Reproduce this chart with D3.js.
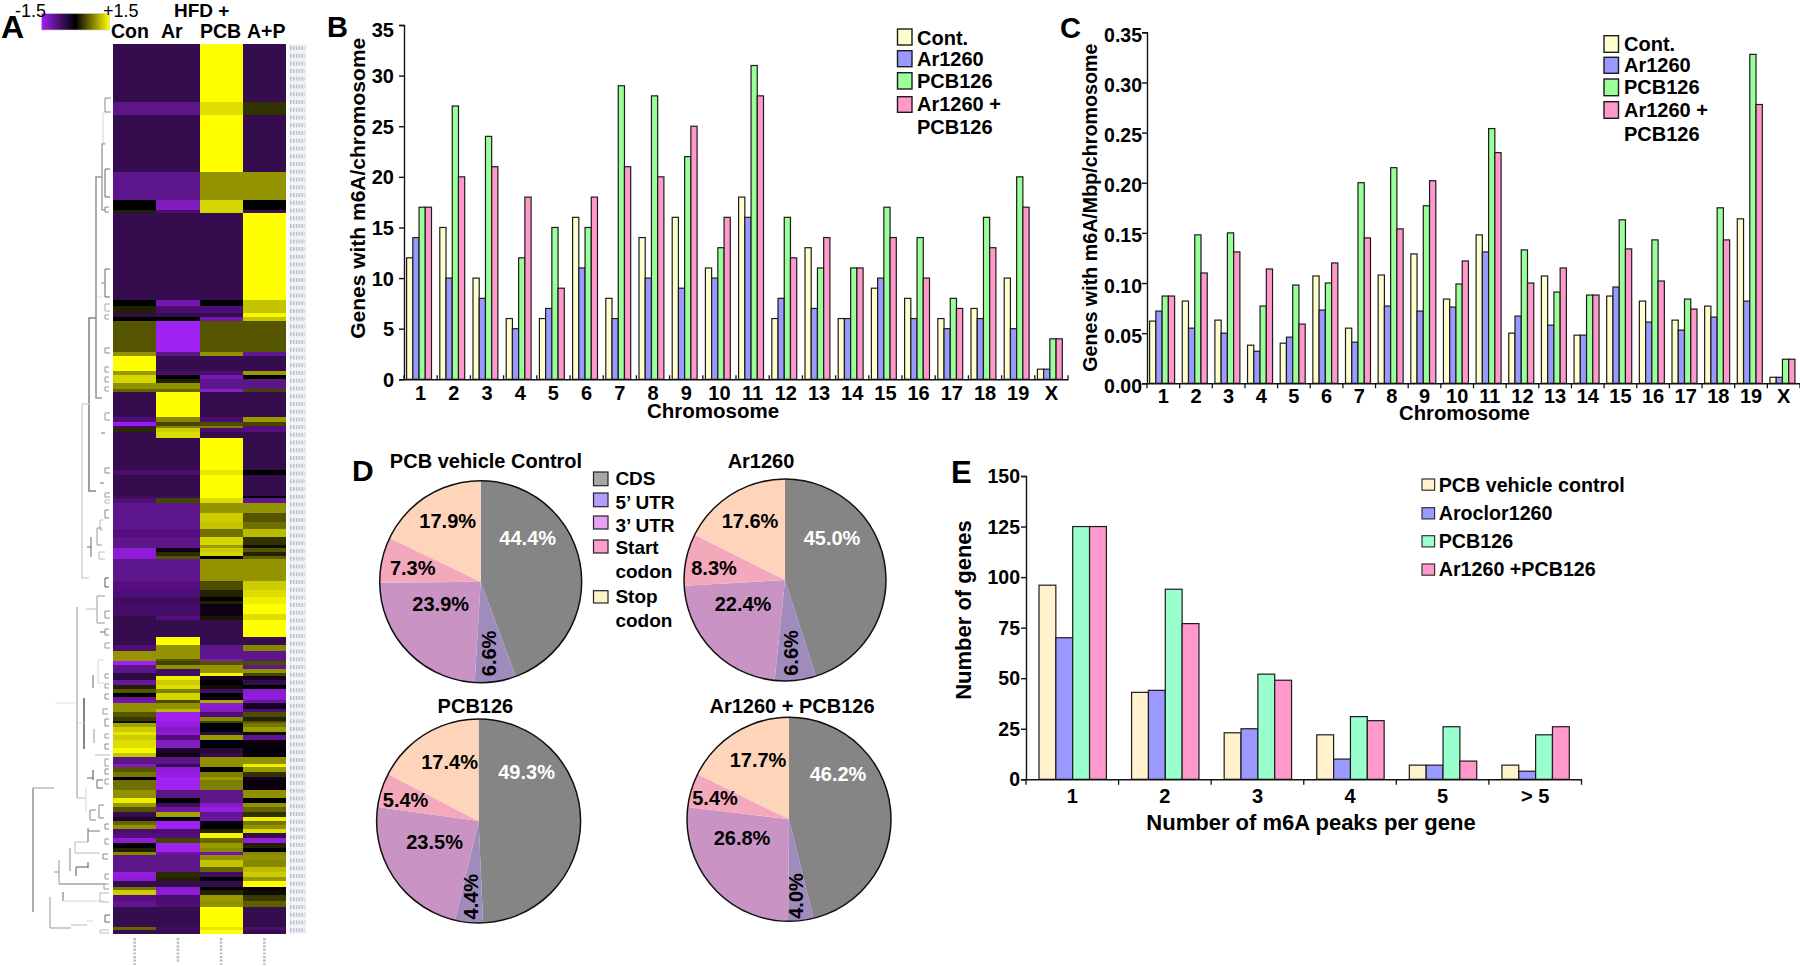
<!DOCTYPE html>
<html>
<head>
<meta charset="utf-8">
<script src="https://cdn.jsdelivr.net/npm/d3@7/dist/d3.min.js"></script>
<style>
html,body{margin:0;padding:0;background:#fff}
svg{display:block}
text{font-family:"Liberation Sans",Arial,sans-serif;font-weight:700;fill:#000}
</style>
</head>
<body>
<svg id="fig" width="1800" height="966"></svg>
<script>
// ---------- DATA ----------
const chromosomes = ["1","2","3","4","5","6","7","8","9","10","11","12","13","14","15","16","17","18","19","X"];
const chromSeries = ["Cont.","Ar1260","PCB126","Ar1260 +\nPCB126"];
const bCont  = [12,15,10,6,6,16,8,14,16,11,18,6,13,6,9,8,6,7,10,1];
const bAr    = [14,10,8,5,7,11,6,10,9,10,16,8,7,6,10,6,5,6,5,1];
const bPCB   = [17,27,24,12,15,15,29,28,22,13,31,16,11,11,17,14,8,16,20,4];
const bCombo = [17,20,21,18,9,18,21,20,25,16,28,12,14,11,14,10,7,13,17,4];
const bTicks = [0,5,10,15,20,25,30,35];
const cCont  = [.062,.082,.063,.038,.040,.107,.055,.108,.129,.084,.148,.050,.107,.048,.087,.082,.063,.077,.164,.006];
const cAr    = [.072,.055,.050,.032,.046,.073,.041,.077,.072,.076,.131,.067,.058,.048,.096,.061,.053,.066,.082,.006];
const cPCB   = [.087,.148,.150,.077,.098,.100,.200,.215,.177,.099,.254,.133,.091,.088,.163,.143,.084,.175,.328,.024];
const cCombo = [.087,.110,.131,.114,.059,.120,.145,.154,.202,.122,.230,.100,.115,.088,.134,.102,.074,.143,.278,.024];
const cTicks = [0,.05,.10,.15,.20,.25,.30,.35];
const peakBins = ["1","2","3","4","5","> 5"];
const peakSeries = ["PCB vehicle control","Aroclor1260","PCB126","Ar1260 +PCB126"];
const eCont  = [96,43,23,22,7,7];
const eAr    = [70,44,25,10,7,4];
const ePCB   = [125,94,52,31,26,22];
const eCombo = [125,77,49,29,9,26];
const eTicks = [0,25,50,75,100,125,150];
const regions = ["CDS","5\u2019 UTR","3\u2019 UTR","Start\ncodon","Stop\ncodon"];
const pieTitles = ["PCB vehicle Control","Ar1260","PCB126","Ar1260 + PCB126"];
const pieControl = [44.4,6.6,23.9,7.3,17.9];
const pieAr      = [45.0,6.6,22.4,8.3,17.6];
const piePCB     = [49.3,4.4,23.5,5.4,17.4];
const pieCombo   = [46.2,4.0,26.8,5.4,17.7];
const heatColumns = ["Con","Ar","PCB","A+P"];
const heatRowCount = 890;
const heatStart = [0,58,71,128,156,166,169,256,262,269,
  273,277,308,312,327,331,335,339,345,348,
  373,378,382,384,388,394,426,431,452,454,
  459,469,478,485,493,501,504,508,512,515,
  537,546,553,557,560,570,572,576,593,601,
  607,615,617,621,625,629,632,636,641,645,
  649,653,656,659,665,668,673,677,679,683,
  688,691,696,704,709,713,720,723,728,733,
  736,746,754,759,763,768,773,777,781,785,
  789,794,799,804,808,811,816,823,828,833,
  837,843,846,851,857,863,883,886];
const heatCon = [-.5,-.85,-.5,-.87,0,.2,-.5,0,.2,-.45,
  0,.5,.85,1.5,.9,1.25,1.25,.85,.6,-.5,
  -.75,-1.45,-.6,.25,-.5,-.5,-.7,-.5,-.55,-.75,
  -.87,-.87,-.87,-.8,-.85,-.85,-1.35,-1.35,-1.35,-.87,
  -.8,-.75,-.6,-.6,-.65,-.65,-.45,-.5,-.5,-.75,
  .87,.87,-1.5,-.87,-.87,-.4,-.4,-1,.2,.5,
  0,-1,-1.1,.85,.85,.5,.35,.1,.95,1.2,
  1.35,1.2,1.3,1.45,1.15,-.85,-1.2,.5,.7,0,
  .65,.85,1.4,.9,.5,-.5,-.3,.6,.85,-.7,
  -.8,-1.3,0,.2,.8,-.85,-.85,-.85,-1.4,-1.3,
  -.5,.7,1.2,-.8,-.9,-.5,.6,-.5];
const heatArc = [-.5,-.85,-.5,-.87,-1.2,-.7,-.5,-1.1,-.7,-.5,
  0,-1.5,-.85,-.5,-.7,0,.2,.85,.6,1.5,
  .8,.4,.75,1.2,1.3,-.5,-.7,-.5,-.55,.4,
  -.87,-.87,-.87,-.8,-.85,-.85,-.1,.25,.5,-.87,
  -.8,-.75,-.6,-.6,-.65,-.65,-.8,-.5,1.5,.87,
  .87,.5,.4,.85,-.6,-.6,1.4,1.2,1.3,.75,
  1.25,1.25,.45,.85,1.1,-1.5,-1.5,-1.45,-1.4,-1.2,
  -1.35,-.8,-1.2,-.3,-.1,-.85,-.5,-1.35,-1.4,-1.5,
  -1.5,-.85,0,-.6,-1,.95,-.05,-1.5,-1.5,-.7,
  -.8,.4,-1.5,-1.5,-1,-.85,-.85,-.85,.25,.2,
  -.5,-1.3,-1.35,-.7,-.75,-.5,-.6,-.5];
const heatPCB = [1.5,1.3,1.5,.87,1.25,1.25,-.5,0,-.75,-.5,
  -1.1,.5,.85,-.5,-.7,-1.1,-.85,-.85,-1.3,-.5,
  -.7,.45,.75,-.7,-.5,1.5,1.35,1.5,1.5,1.3,
  .87,1.2,1.15,.65,1.25,.9,1.2,1.25,0,.87,
  .45,.2,0,.2,-.15,-.15,.15,-.5,-.5,-.85,
  -.87,-1.2,.5,.87,.87,1.45,-.2,0,.1,-.6,
  0,-.1,1,-1.3,-1.2,-.75,.8,.4,-.05,-.05,
  -.4,.9,-.05,-.35,-.5,.85,.85,-.05,.75,.9,
  .75,-.85,-.85,-1.2,-1.4,-.9,-1,-.05,0,.2,
  1.45,.6,.9,.8,-1.1,.85,1.15,.6,-.6,0,
  -.5,0,.2,.9,.85,1.5,1.35,1.5];
const heatAP = [-.5,.28,-.5,.87,0,-.6,1.5,1.15,1.15,1.45,
  1.15,.5,-.95,-.5,.9,0,-.85,-.85,.4,-.5,
  .9,.4,-.8,-.8,-.5,-.5,0,-.5,0,-.9,
  .87,.5,.65,1.1,.3,.1,.5,.2,.55,.87,
  1.2,1.3,1.4,1.4,1.5,1.3,1.3,1.5,-.5,.8,
  -.87,-.87,.45,-.9,.87,.4,-.2,-.5,0,-1.3,
  -1.35,-1.35,-1,-.2,-.75,.45,.2,.5,.7,.9,
  .1,-.9,-.1,-.05,-.1,.85,1.4,.9,.3,-.2,
  -.1,.85,0,.85,.6,.3,1.4,.7,.85,1.3,
  -.45,-1.4,.2,0,.8,.85,.8,1.1,1.2,.9,
  1.5,-.1,.05,.35,.55,-.5,-.7,-.5];
const heatLabelRows = 115;
// dendrogram branches: [depth, first row, last row, branch length, grey level]
const dendroBranches = [
 [105,54,68,6,136],[103,69,99,3,215],[105,125,153,5,102],[102,100,166,3,170],[96,133,354,6,153],
 [105,163,168,4,136],[105,225,253,5,102],[101,239,239,4,136],[97,253,253,6,225],[105,260,267,5,170],
 [105,271,275,4,153],[89,274,447,7,136],[82,360,534,7,215],[105,304,309,5,136],[105,323,328,4,153],
 [105,333,338,4,153],[105,343,347,4,153],[105,369,376,5,153],[101,389,389,4,119],[105,424,429,5,136],
 [100,439,439,4,119],[105,449,453,5,153],[105,456,459,5,187],[105,466,474,4,136],[100,476,486,3,187],
 [97,484,501,5,153],[91,493,513,0,102],[87,503,503,4,102],[99,508,515,6,187],[105,534,543,4,85],
 [97,552,579,8,153],[86,565,565,11,187],[105,567,574,5,136],[100,588,588,5,102],[105,585,591,4,136],
 [105,599,604,5,153],[98,616,639,6,215],[77,563,754,0,187],[77,754,754,9,187],[93,631,644,0,102],
 [55,659,659,22,225],[84,654,705,0,102],[78,679,679,6,225],[94,685,699,0,153],[95,711,711,15,187],
 [93,726,736,0,68],[87,734,734,6,102],[97,736,744,6,102],[86,743,768,0,215],[99,761,774,5,136],
 [90,766,776,6,136],[33,744,868,0,153],[33,744,744,21,153],[88,784,798,0,102],[88,787,787,12,119],
 [75,798,809,0,187],[75,798,798,13,187],[75,809,809,25,187],[70,804,827,0,136],[76,823,832,0,85],
 [76,823,823,12,85],[88,818,824,0,85],[59,816,840,0,153],[54,828,828,5,153],[59,840,840,46,119],
 [63,848,857,0,102],[63,857,857,42,215],[50,853,884,0,153],[50,884,884,21,153],[71,881,881,16,187],
 [87,877,877,6,215],[105,871,878,5,102],[100,886,889,9,187],[100,849,858,9,187],
 [105,630,634,4,153],[105,640,644,4,153],[105,650,655,4,136],[103,665,670,5,153],[105,675,682,4,136],
 [105,690,694,4,153],[105,700,705,4,136],[105,715,722,4,153],[105,725,730,4,136],[105,735,740,4,153],
 [105,780,785,4,136],[105,795,800,4,153],[103,810,815,5,136],[105,830,835,4,153],[104,840,845,5,153]
];

// ---------- STYLE / LAYOUT ----------
const svg = d3.select("#fig");
const chromColors = ["#ffffcc","#9999ff","#99ff99","#ff99cc"];
const peakColors  = ["#fff2cc","#9999ff","#99ffcc","#ff99cc"];
const sliceColors = ["#858585","#a08cbc","#c994c4","#f4a8bc","#fed5ba"];
const swatchColors= ["#a6a6a6","#b39efa","#e8a0f5","#ff9ecb","#fff1c8"];
const pieCentres  = [[480.7,581.7],[785,580],[478.6,821],[789,819.3]];
const pieRadii    = [101,101,102,102];
const pieTitlePos = [[486,468],[761,468],[475.4,713],[792,713]];
const pieLabelOffsets = [
 [[47,-41.7],[9.6,71.7],[-40,24],[-68,-11.7],[-33,-59]],
 [[47,-40],[8,73],[-42,25.7],[-71,-10],[-35,-57.7]],
 [[48,-47.7],[-6,75.7],[-44,22.3],[-73,-19],[-29,-57]],
 [[49,-44],[9,76.7],[-47,20.7],[-74,-20],[-31,-57.7]]];

function txt(x,y,s,size,opts={}){
  const t = svg.append("text").attr("x",x).attr("y",y).attr("font-size",size).text(s);
  if(opts.anchor) t.attr("text-anchor",opts.anchor);
  if(opts.regular) t.style("font-weight",400);
  if(opts.fill) t.style("fill",opts.fill);
  if(opts.rotate!==undefined) t.attr("transform",`rotate(${opts.rotate} ${x} ${y})`);
  return t;
}

function barPanel(c){
  const g = svg.append("g");
  const x = d3.scaleBand().domain(c.cats).range([c.x0,c.x1]);
  const sub = d3.scaleBand().domain(d3.range(4)).range(c.inner);
  const y = d3.scaleLinear().domain(c.yDomain).range([c.y0,c.y1]);
  c.values.forEach((vals,s)=>{
    g.selectAll(null).data(vals).join("rect")
      .attr("x",(d,i)=>x(c.cats[i])+sub(s))
      .attr("y",d=>y(d))
      .attr("width",sub.bandwidth())
      .attr("height",d=>c.y0-y(d))
      .attr("fill",c.colors[s])
      .attr("stroke","#1c1c1c").attr("stroke-width",1.2);
  });
  const ay = g.append("g").attr("transform",`translate(${c.x0},0)`)
    .call(d3.axisLeft(y).tickValues(c.yTicks).tickFormat(c.yFormat).tickSize(5).tickPadding(0));
  ay.selectAll("path,line").attr("stroke","#111").attr("stroke-width",1.4);
  ay.selectAll("text").attr("font-size",c.tickSize).attr("dy",null).attr("y",c.tickDy)
    .attr("x",c.tickX-c.x0).attr("text-anchor","end");
  const ax = g.append("g").attr("transform",`translate(0,${c.y0})`)
    .call(d3.axisBottom(x).tickSize(0).tickSizeOuter(0));
  ax.select("path").attr("stroke","#111").attr("stroke-width",1.6);
  ax.selectAll("text").attr("font-size",c.xTickSize).attr("dy",null).attr("y",c.xLabelY-c.y0);
  g.selectAll(null).data(d3.range(c.cats.length+1)).join("line")
    .attr("x1",i=>c.x0+i*x.step()).attr("x2",i=>c.x0+i*x.step())
    .attr("y1",c.y0).attr("y2",c.y0+c.xTick)
    .attr("stroke","#111").attr("stroke-width",1.3);
  txt(c.xTitle[0],c.xTitle[1],c.xTitleText,c.xTitle[2],{anchor:"middle"});
  txt(c.yTitle[0],c.yTitle[1],c.yTitleText,c.yTitle[2],{anchor:"middle",rotate:-90});
}

// ---------- PANEL A ----------
txt(1,38,"A",32);
const heatY = d3.scaleLinear().domain([0,heatRowCount]).range([44,934]);
const heatX = d3.scaleBand().domain(heatColumns).range([113,286]);
const heatColor = d3.scaleLinear().domain([-1.5,0,1.5]).range(["#a020f0","#000000","#ffff00"]);
const heatByCol = [heatCon,heatArc,heatPCB,heatAP];
const defs = svg.append("defs");
defs.append("filter").attr("id","soft").append("feGaussianBlur").attr("stdDeviation",0.5);
const grad = defs.append("linearGradient").attr("id","hm");
[-1.5,0,1.5].forEach((v,i)=>grad.append("stop").attr("offset",i*50+"%").attr("stop-color",heatColor(v)));
const heatG = svg.append("g").attr("filter","url(#soft)").attr("shape-rendering","crispEdges");
heatColumns.forEach((col,ci)=>{
  heatG.selectAll(null).data(heatByCol[ci]).join("rect")
    .attr("x",heatX(col)).attr("width",heatX.bandwidth())
    .attr("y",(d,i)=>heatY(heatStart[i]))
    .attr("height",(d,i)=>heatY(i+1<heatStart.length?heatStart[i+1]:heatRowCount)-heatY(heatStart[i]))
    .attr("fill",d=>heatColor(d));
});
const depthX = d3.scaleLinear().domain([0,113]).range([0,113]);
svg.append("g").attr("fill","none").attr("filter","url(#soft)")
  .selectAll("path").data(dendroBranches).join("path")
  .attr("d",b=>{
    const x=depthX(b[0]),xe=depthX(b[0]+b[3]),t=heatY(b[1]),e=heatY(b[2]);
    return b[3]===0?`M${x},${t}V${e}`:(b[1]===b[2]?`M${x},${t}H${xe}`:`M${xe},${t}H${x}V${e}H${xe}`);
  })
  .attr("stroke",b=>`rgb(${b[4]},${b[4]},${b[4]})`)
  .attr("stroke-width",b=>(b[2]-b[1]>40?1.6:1));
// the row and column captions of the heat map are illegible in the reference: faint texture only
const labelY = d3.scaleLinear().domain([0,heatLabelRows]).range([44,934]);
svg.append("rect").attr("x",288.5).attr("y",44).attr("width",18).attr("height",890).attr("fill","#f3f4f8");
svg.append("g").attr("filter","url(#soft)").selectAll("line").data(d3.range(heatLabelRows)).join("line")
  .attr("x1",290).attr("x2",305)
  .attr("y1",i=>labelY(i)+3.9).attr("y2",i=>labelY(i)+3.9)
  .attr("stroke","#a5abb9").attr("stroke-width",4).attr("stroke-dasharray","1.6 1.3").attr("opacity",.7);
svg.append("g").attr("filter","url(#soft)").selectAll("line").data(heatColumns).join("line")
  .attr("x1",d=>heatX(d)+heatX.bandwidth()/2).attr("x2",d=>heatX(d)+heatX.bandwidth()/2)
  .attr("y1",938).attr("y2",(d,i)=>[965,962,965,965][i])
  .attr("stroke","#888").attr("stroke-width",2.6).attr("stroke-dasharray","2.2 1.4").attr("opacity",.55);
heatColumns.forEach((c,i)=>txt([111,161,200,247][i],37.7,c,19.5));
txt(174,17,"HFD +",19);
svg.append("rect").attr("x",41.5).attr("y",13.5).attr("width",68).attr("height",16.5)
  .attr("fill","url(#hm)").attr("stroke","#ccc").attr("stroke-width",.6);
txt(15,16.5,"-1.5",18,{regular:true});
txt(103,16.5,"+1.5",18,{regular:true});

// ---------- PANELS B, C ----------
txt(327,37,"B",29);
barPanel({cats:chromosomes,x0:404,x1:1068,inner:[2.6,27.5],y0:379.3,y1:25,yDomain:[0,35],
  values:[bCont,bAr,bPCB,bCombo],colors:chromColors,yTicks:bTicks,yFormat:d3.format("d"),
  tickSize:20,tickDy:d=>d===35?11:7,tickX:394,xTickSize:20,xLabelY:400,xTick:-4,
  xTitle:[713,418.3,20.5],xTitleText:"Chromosome",yTitle:[365.5,188.3,21],yTitleText:"Genes with m6A/chromosome"});
txt(1060,37.7,"C",29);
barPanel({cats:chromosomes,x0:1147,x1:1800,inner:[2.6,27.6],y0:383.3,y1:32.3,yDomain:[0,.35],
  values:[cCont,cAr,cPCB,cCombo],colors:chromColors,yTicks:cTicks,yFormat:d3.format(".2f"),
  tickSize:19.5,tickDy:9,tickX:1142,xTickSize:20,xLabelY:403.3,xTick:5,
  xTitle:[1464.4,420,20.3],xTitleText:"Chromosome",yTitle:[1097,207.7,19.7],yTitleText:"Genes with m6A/Mbp/chromosome"});

function chromLegend(x,textX,boxes,bases){
  chromSeries.forEach((s,i)=>{
    svg.append("rect").attr("x",x).attr("y",boxes[i][0]).attr("width",14.5).attr("height",boxes[i][1]-boxes[i][0])
      .attr("fill",chromColors[i]).attr("stroke","#1c1c1c").attr("stroke-width",1.4);
  });
  chromSeries.join("\n").split("\n").forEach((s,i)=>txt(textX,bases[i],s,20));
}
chromLegend(897.5,917,[[29,45],[50.7,66.7],[72.7,89],[96.7,112.3]],[45,65.7,88,110.7,134]);
chromLegend(1604,1624,[[35.7,52.3],[57.3,73.3],[79,95.7],[101.7,118.3]],[51,72,94.3,116.7,140.7]);

// ---------- PANEL D ----------
txt(352,480.7,"D",30);
const pie = d3.pie().sort(null).value(d=>d);
[pieControl,pieAr,piePCB,pieCombo].forEach((vals,p)=>{
  const [cx,cy]=pieCentres[p], r=pieRadii[p];
  const arc=d3.arc().innerRadius(0).outerRadius(r);
  const g=svg.append("g").attr("transform",`translate(${cx},${cy})`);
  g.selectAll("path").data(pie(vals)).join("path").attr("d",arc).attr("fill",(d,i)=>sliceColors[i]);
  g.append("circle").attr("r",r).attr("fill","none").attr("stroke","#111").attr("stroke-width",1.5);
  vals.forEach((v,i)=>{
    const [dx,dy]=pieLabelOffsets[p][i];
    g.append("text").attr("font-size",20).attr("text-anchor","middle").attr("dominant-baseline","middle")
      .attr("transform",`translate(${dx},${dy})`+(i===1?" rotate(-90)":""))
      .style("fill",i===0?"#fff":"#000")
      .text(v.toFixed(1)+"%");
  });
  txt(pieTitlePos[p][0],pieTitlePos[p][1],pieTitles[p],20,{anchor:"middle"});
});
[[472,485.7],[493,506.7],[516,529],[540,553],[590.7,603]].forEach((b,i)=>{
  svg.append("rect").attr("x",593.5).attr("y",b[0]).attr("width",14.5).attr("height",b[1]-b[0])
    .attr("fill",swatchColors[i]).attr("stroke","#222").attr("stroke-width",1.2);
});
regions.join("\n").split("\n").forEach((s,i)=>txt(615.4,[485,509,531.7,554,577.7,603,627][i],s,19));

// ---------- PANEL E ----------
txt(951,483,"E",31);
barPanel({cats:peakBins,x0:1026,x1:1581.5,inner:[13,80.4],y0:779.3,y1:476,yDomain:[0,150],
  values:[eCont,eAr,ePCB,eCombo],colors:peakColors,yTicks:eTicks,yFormat:d3.format("d"),
  tickSize:19.5,tickDy:6.5,tickX:1020,xTickSize:20,xLabelY:802.7,xTick:5.5,
  xTitle:[1311,830,22],xTitleText:"Number of m6A peaks per gene",yTitle:[971,610,22],yTitleText:"Number of genes"});
peakSeries.forEach((s,i)=>{
  const top=[479,507.7,535.7,564][i], base=[491.7,520,547.7,576][i];
  svg.append("rect").attr("x",1422).attr("y",top).attr("width",12.6).attr("height",11.2)
    .attr("fill",peakColors[i]).attr("stroke","#333").attr("stroke-width",1.2);
  txt(1438.7,base,s,19.7);
});
</script>
</body>
</html>
